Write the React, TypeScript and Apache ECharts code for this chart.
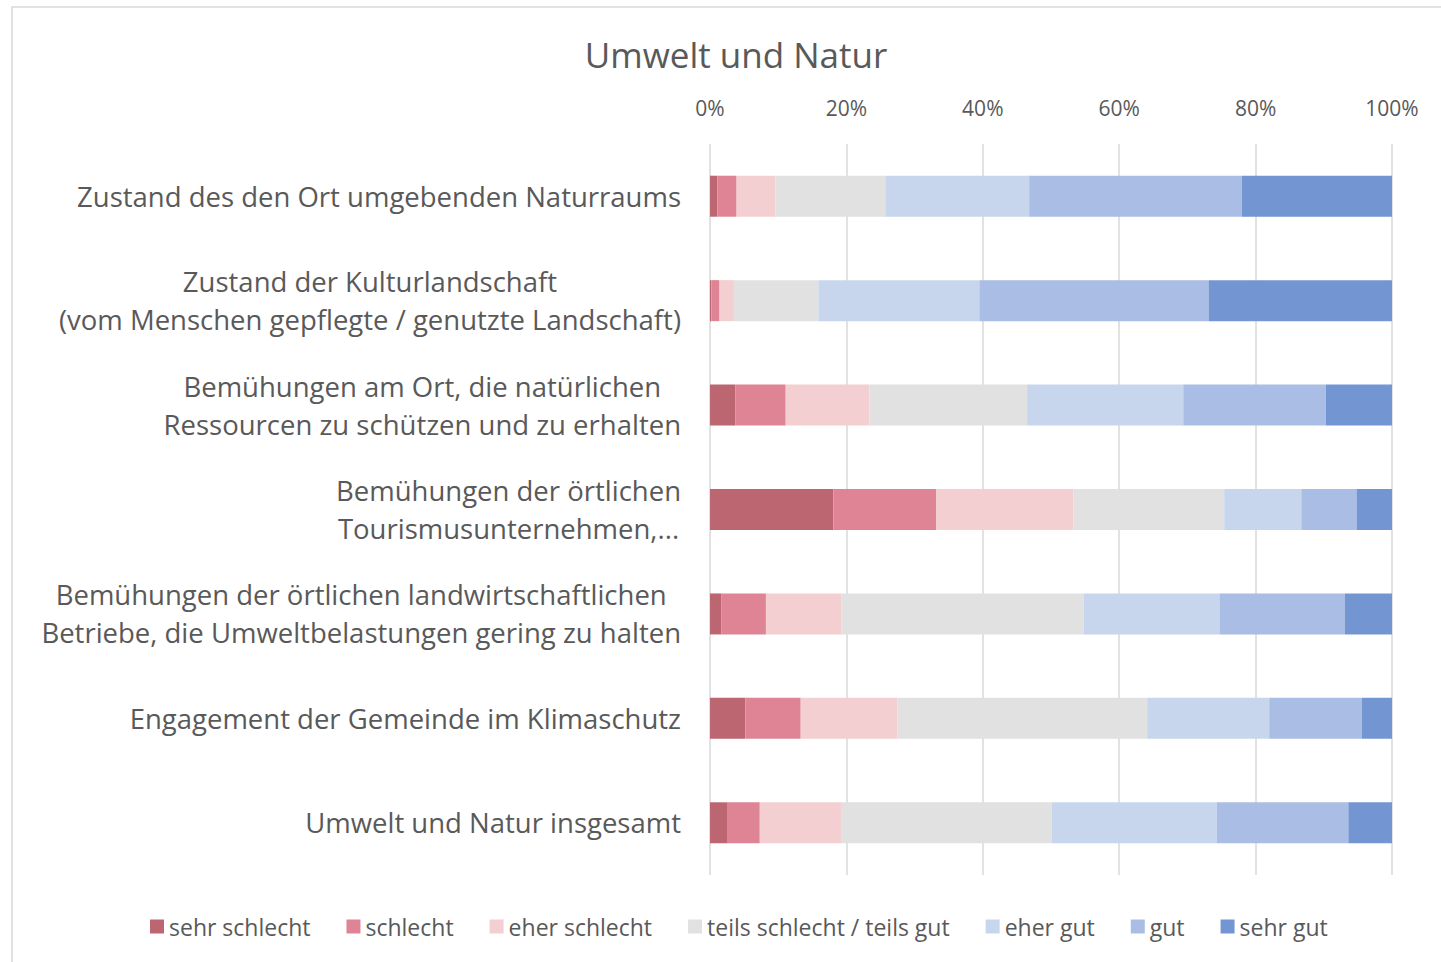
import React, { useEffect, useRef } from "react";
import * as echarts from "echarts";

const categories = [
  "Zustand des den Ort umgebenden Naturraums",
  "Zustand der Kulturlandschaft\n(vom Menschen gepflegte / genutzte Landschaft)",
  "Bemühungen am Ort, die natürlichen\nRessourcen zu schützen und zu erhalten",
  "Bemühungen der örtlichen\nTourismusunternehmen,...",
  "Bemühungen der örtlichen landwirtschaftlichen\nBetriebe, die Umweltbelastungen gering zu halten",
  "Engagement der Gemeinde im Klimaschutz",
  "Umwelt und Natur insgesamt",
];

const seriesNames = [
  "sehr schlecht",
  "schlecht",
  "eher schlecht",
  "teils schlecht / teils gut",
  "eher gut",
  "gut",
  "sehr gut",
];

const sehrSchlecht = [1.1, 0.2, 3.7, 18.1, 1.7, 5.2, 2.6];
const schlecht = [2.8, 1.2, 7.4, 15.1, 6.5, 8.1, 4.7];
const eherSchlecht = [5.7, 2.1, 12.3, 20.1, 11.1, 14.2, 11.9];
const teils = [16.1, 12.4, 23.1, 22.1, 35.5, 36.6, 30.9];
const eherGut = [21.1, 23.6, 22.9, 11.3, 19.9, 17.9, 24.2];
const gut = [31.2, 33.6, 20.9, 8.1, 18.4, 13.6, 19.3];
const sehrGut = [22.0, 26.9, 9.7, 5.2, 6.9, 4.4, 6.4];

const tickLabels = ["0%", "20%", "40%", "60%", "80%", "100%"];

const seriesValues = [sehrSchlecht, schlecht, eherSchlecht, teils, eherGut, gut, sehrGut];
const colors = ["#BC6672", "#DF8494", "#F3CFD1", "#E1E1E1", "#C7D6EC", "#AABDE4", "#7396D3"];

const FONT = "Open Sans";
const TXT = "#595959";

export default function App() {
  const ref = useRef<HTMLDivElement>(null);
  useEffect(() => {
    if (!ref.current) return;
    const chart = echarts.init(ref.current, undefined, { renderer: "svg" });
    chart.setOption({
      animation: false,
      backgroundColor: "#ffffff",
      title: {
        text: "Umwelt und Natur",
        left: 731,
        top: 32,
        textAlign: "center",
        textStyle: { fontFamily: FONT, fontSize: 35, fontWeight: "normal", color: TXT },
      },
      graphic: [
        {
          type: "rect",
          shape: { x: 12, y: 7, width: 1460, height: 1000 },
          style: { fill: "none", stroke: "#D9D9D9", lineWidth: 1.5 },
          silent: true,
        },
      ],
      legend: {
        top: 910,
        left: 145,
        itemWidth: 14,
        itemHeight: 14,
        itemGap: 36,
        icon: "rect",
        data: seriesNames,
        textStyle: { fontFamily: FONT, fontSize: 23, color: TXT },
      },
      grid: { left: 710, right: 49, top: 144, bottom: 87, containLabel: false },
      xAxis: {
        type: "value",
        position: "top",
        min: 0,
        max: 100,
        interval: 20,
        axisLine: { show: false },
        axisTick: { show: false },
        splitLine: { show: true, lineStyle: { color: "#D9D9D9", width: 1.5 } },
        axisLabel: {
          fontFamily: FONT,
          fontSize: 21,
          color: TXT,
          margin: 26,
          formatter: (v: number) => tickLabels[Math.round(v / 20)],
        },
      },
      yAxis: {
        type: "category",
        inverse: true,
        data: categories,
        axisLine: { show: false },
        axisTick: { show: false },
        axisLabel: {
          margin: 29,
          formatter: (v: string) =>
            v
              .split("\n")
              .map((l) => `{c|${l}}`)
              .join("\n"),
          rich: {
            c: {
              align: "center",
              fontFamily: FONT,
              fontSize: 27.5,
              color: TXT,
              lineHeight: 38,
            },
          },
        },
      },
      series: seriesValues.map((vals, i) => ({
        name: seriesNames[i],
        type: "bar",
        stack: "total",
        barWidth: 41,
        data: vals,
        itemStyle: { color: colors[i] },
      })),
    });
    return () => chart.dispose();
  }, []);
  return (
    <div
      ref={ref}
      style={{ position: "fixed", left: 0, top: 0, width: 1441, height: 962 }}
    />
  );
}
